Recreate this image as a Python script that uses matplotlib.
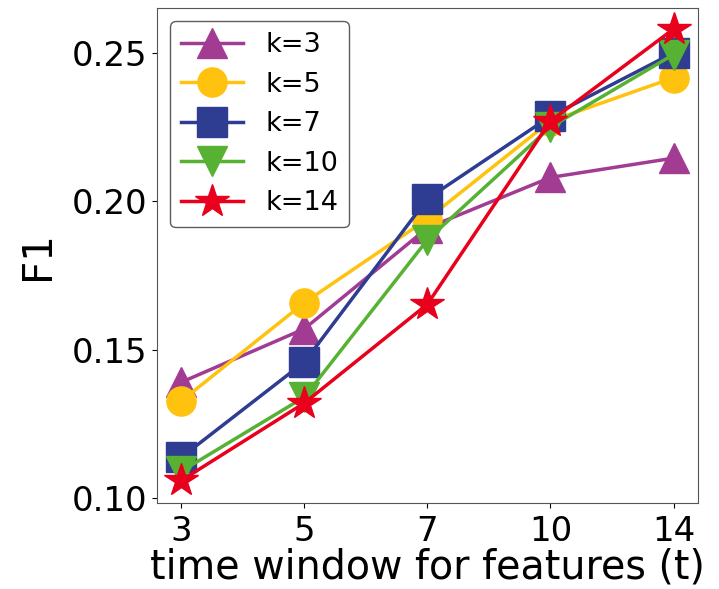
import matplotlib
matplotlib.use("Agg")
import matplotlib.pyplot as plt

windows = ["3", "5", "7", "10", "14"]

f1_k3 = [0.139, 0.157, 0.191, 0.208, 0.2145]
f1_k5 = [0.1327, 0.1658, 0.194, 0.227, 0.2416]
f1_k7 = [0.1137, 0.1458, 0.2008, 0.2286, 0.250]
f1_k10 = [0.109, 0.134, 0.187, 0.225, 0.2494]
f1_k14 = [0.1059, 0.132, 0.1653, 0.227, 0.258]

series = [
    ("k=3", f1_k3, "^", "#A23C93"),
    ("k=5", f1_k5, "o", "#FFC20E"),
    ("k=7", f1_k7, "s", "#2E3D91"),
    ("k=10", f1_k10, "v", "#57B233"),
    ("k=14", f1_k14, "*", "#E8001C"),
]

fig = plt.figure(figsize=(7.19, 5.89), dpi=100)
ax = fig.add_axes([0.218, 0.146, 0.753, 0.841])

xs = list(range(len(windows)))
for label, vals, marker, color in series:
    ms = 25 if marker == "*" else 21
    ax.plot(xs, vals, marker=marker, color=color, label=label,
            markersize=ms, linewidth=2.5)

ax.set_xticks(xs)
ax.set_xticklabels(windows)
ax.set_xlim(-0.2, 4.2)
ax.set_ylim(0.0983, 0.2652)
ax.set_yticks([0.10, 0.15, 0.20, 0.25])
ax.tick_params(labelsize=24.5)
ax.tick_params(axis="x", pad=5)
ax.set_xlabel("time window for features (t)", fontsize=28.5, labelpad=0)
ax.set_ylabel("F1", fontsize=29, labelpad=10)
for s in ax.spines.values():
    s.set_color("#555555")

ax.legend(loc="upper left", fontsize=19.5, edgecolor="#333333",
          handlelength=2.3, handletextpad=0.8)

fig.savefig("out.png", dpi=100)
